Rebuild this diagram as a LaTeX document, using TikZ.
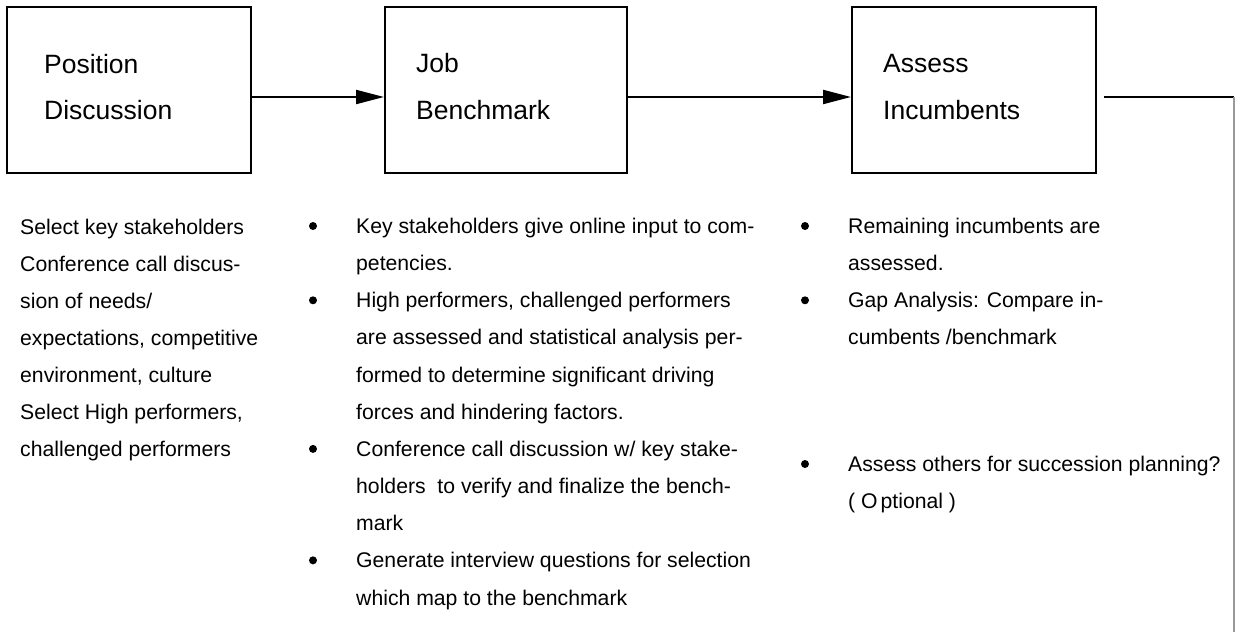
\documentclass[tikz,border=0pt]{standalone}
\usepackage{fontspec}
\setmainfont{Liberation Sans}
\usetikzlibrary{arrows.meta}
\begin{document}
\begin{tikzpicture}[x=1pt,y=-1pt,
  stepbox/.style={draw=black, line width=2pt, minimum height=166pt, inner sep=0pt},
  title/.style={anchor=base west, inner sep=0pt, align=left, font=\fontsize{26.5pt}{46.5pt}\selectfont},
  body/.style={anchor=base west, inner sep=0pt, align=left, font=\fontsize{21.2pt}{37.15pt}\selectfont},
  dot/.style={circle, fill=black, minimum size=8pt, inner sep=0pt},
  flow/.style={line width=2pt, -{Triangle[length=28pt,width=14pt]}},
  plain/.style={line width=2pt},
  side/.style={draw=black!40, line width=1.5pt},
]
\useasboundingbox (0,0) rectangle (1235,632);

% boxes
\node[stepbox, minimum width=244pt] (b1) at (129,90) {};
\node[stepbox, minimum width=242pt] (b2) at (506,90) {};
\node[stepbox, minimum width=244pt] (b3) at (974,90) {};

% titles (anchor = baseline of the last line)
\node[title] (t1) at (44,119.8) {Position\\Discussion};
\node[title] (t2) at (416,119.2) {Job\\Benchmark};
\node[title] (t3) at (883,119.2) {Assess\\Incumbents};

% connectors
\draw[flow] ([yshift=-7pt]b1.east) -- ([yshift=-7pt]b2.west);
\draw[flow] ([yshift=-7pt]b2.east) -- ([yshift=-7pt]b3.west);
\coordinate (c1) at (1104,97);
\coordinate (c2) at (1234,97);
\coordinate (c3) at (1234,632);
\draw[plain] (c1) -- (c2);
\draw[side] (c2) -- (c3);

% column 1
\node[body] (p1) at (20,456.9) {Select key stakeholders\\Conference call discus-\\sion of needs/\\expectations, competitive\\environment, culture\\Select High performers,\\challenged performers};

% column 2
\node[body] (q1) at (356,270.65) {Key stakeholders give online input to com-\\petencies.};
\node[body] (q2) at (356,419.25) {High performers, challenged performers\\are assessed and statistical analysis per-\\formed to determine significant driving\\forces and hindering factors.};
\node[body] (q3) at (356,530.7) {Conference call discussion w/ key stake-\\holders\ \ to verify and finalize the bench-\\mark};
\node[body] (q4) at (356,605) {Generate interview questions for selection\\which map to the benchmark};
\node[dot] (qd1) at (313,226) {};
\node[dot] (qd2) at (313,300.3) {};
\node[dot] (qd3) at (313,448.9) {};
\node[dot] (qd4) at (313,560.35) {};

% column 3
\node[body] (r1) at (848,270.65) {Remaining incumbents are\\assessed.};
\node[body] (r2) at (848,344.95) {Gap Analysis: Compare in-\\cumbents /benchmark};
\node[body] (r3) at (848,508.65) {Assess others for succession planning?\\( O\kern3pt ptional )};
\node[dot] (rd1) at (805,226) {};
\node[dot] (rd2) at (805,300.3) {};
\node[dot] (rd3) at (805,464) {};
\end{tikzpicture}
\end{document}
